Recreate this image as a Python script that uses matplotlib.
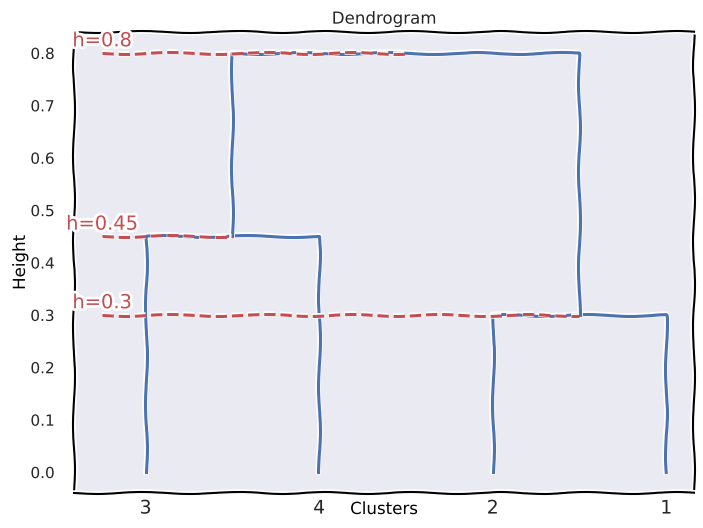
import matplotlib
matplotlib.use("Agg")
import matplotlib.pyplot as plt

# dendrogram data (leaf order left to right)
leaf_labels = ["3", "4", "2", "1"]
leaf_pos = [5, 15, 25, 35]
# each link: x coords and heights of the 4 points of the bracket
link_x = [[5, 5, 15, 15], [25, 25, 35, 35], [10, 10, 30, 30]]
link_h = [[0.0, 0.45, 0.45, 0.0], [0.0, 0.3, 0.3, 0.0], [0.45, 0.8, 0.8, 0.3]]
# cut lines
cut_h = [0.8, 0.45, 0.3]
cut_end = [20, 10, 30]
cut_start = 2.5

plt.xkcd()
plt.rcParams["font.family"] = "DejaVu Sans"
plt.rcParams["axes.facecolor"] = "#EAEAF2"
plt.rcParams["xtick.major.size"] = 0
plt.rcParams["ytick.major.size"] = 0
plt.rcParams["text.color"] = "#262626"
plt.rcParams["xtick.color"] = "#262626"
plt.rcParams["ytick.color"] = "#262626"

blue = "#4C72B0"
red = "#C44E52"

fig = plt.figure(figsize=(7.03, 5.28), dpi=100)
ax = fig.add_axes([74 / 703, 35 / 528, 620 / 703, 461 / 528])

for xs, hs in zip(link_x, link_h):
    ax.plot(xs, hs, color=blue, lw=2.2)

for h, xe in zip(cut_h, cut_end):
    ax.plot([cut_start, xe], [h, h], color=red, lw=2.2, ls="--")
    ax.text(cut_start, h + 0.005, "h=%g" % h, color=red, fontsize=14,
            ha="center", va="bottom")

ax.set_xlim(0.875, 36.6)
ax.set_ylim(-0.04, 0.84)
ax.set_xticks(leaf_pos)
ax.set_xticklabels(leaf_labels, fontsize=13.5)
ax.set_yticks([0.0, 0.1, 0.2, 0.3, 0.4, 0.5, 0.6, 0.7, 0.8])
ax.set_yticklabels(["%.1f" % v for v in ax.get_yticks()], fontsize=11)
ax.tick_params(axis="x", pad=4)
ax.tick_params(axis="y", pad=14)

ax.set_title("Dendrogram", fontsize=12, pad=6)
ax.set_ylabel("Height", fontsize=12, labelpad=1)
ax.set_xlabel("Clusters", fontsize=12)
ax.xaxis.set_label_coords(0.5, -7 / 461)

fig.savefig("out.png", dpi=100)
